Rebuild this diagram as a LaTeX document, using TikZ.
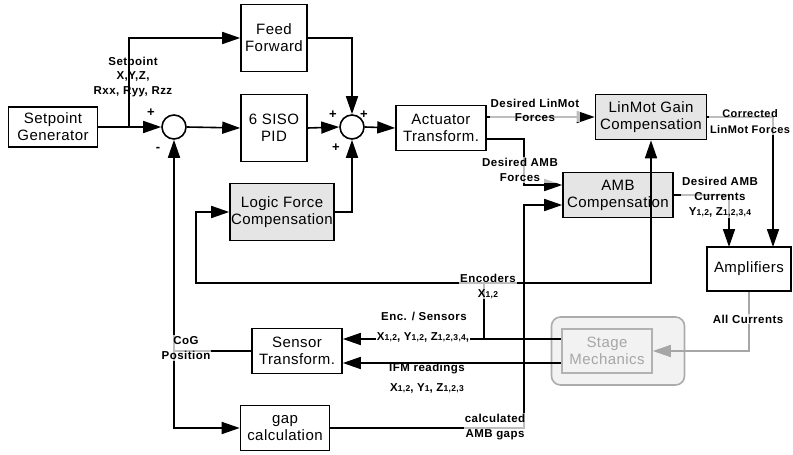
\documentclass[tikz,border=0pt]{standalone}
\usepackage{fontspec}
\setmainfont[LetterSpace=3]{Liberation Sans}
\newfontfamily\lblfont[LetterSpace=4]{Liberation Sans}
\usetikzlibrary{arrows.meta,calc}
\newcommand{\lsub}[1]{{\fontsize{8.5}{9}\selectfont #1}}
\begin{document}
\begin{tikzpicture}[x=1pt,y=-1pt,
  blk/.style={draw,line width=1.6pt,align=center,inner sep=0pt,font=\fontsize{15}{17}\selectfont},
  shaded/.style={blk,fill=gray!20},
  sumc/.style={draw,circle,line width=1.6pt,minimum size=24pt,inner sep=0pt},
  conn/.style={line width=1.6pt},
  arr/.style={conn,-{Triangle[length=18pt,width=12pt]}},
  lbl/.style={font=\lblfont\bfseries\fontsize{11.5}{14.5}\selectfont,align=center,inner sep=1pt},
  veil/.style={lbl,fill=white,fill opacity=0.74,text opacity=1},
  sign/.style={font=\bfseries\fontsize{13}{13}\selectfont,inner sep=0pt},
]
\useasboundingbox (0,0) rectangle (793,455);

% blocks
\node[blk,minimum width=89pt,minimum height=40pt] (sg) at (53,127) {Setpoint\\Generator};
\node[blk,minimum width=66pt,minimum height=67pt] (ff) at (274,38) {Feed\\Forward};
\node[blk,minimum width=66pt,minimum height=67pt] (pid) at (274,128) {6 SISO\\PID};
\node[sumc] (s1) at (174,127) {};
\node[sumc] (s2) at (352,127) {};
\node[blk,minimum width=90pt,minimum height=45pt] (act) at (441,128) {Actuator\\Transform.};
\node[shaded,minimum width=111pt,minimum height=45pt] (lin) at (651,117) {LinMot Gain\\Compensation};
\node[shaded,minimum width=110pt,minimum height=45pt] (amb) at (618,195) {AMB\\Compensation};
\node[blk,minimum width=84pt,minimum height=44pt] (amp) at (749,269) {Amplifiers};
\node[shaded,minimum width=104pt,minimum height=57pt] (lfc) at (282,212) {Logic Force\\Compensation};
\node[blk,minimum width=90pt,minimum height=45pt] (st) at (297,351) {Sensor\\Transform.};
\node[blk,minimum width=89pt,minimum height=45pt] (gap) at (285,428) {gap\\calculation};
\node[draw=gray!65,line width=1.6pt,fill=gray!10,rounded corners=9pt,minimum width=133pt,minimum height=68pt] (smout) at (618,351) {};
\node[blk,draw=gray!60,fill=gray!10,text=gray!70,minimum width=90pt,minimum height=44pt] (smin) at (607,351) {Stage\\Mechanics};

% coordinates
\coordinate (br) at (129,127);
\coordinate (a1) at (524,139);
\coordinate (a2) at (524,185);
\coordinate (g1) at (524,428);
\coordinate (g2) at (524,205);
\coordinate (e1) at (484,339);
\coordinate (e2) at (484,283);
\coordinate (e3) at (196,283);
\coordinate (l1) at (484,363);
\coordinate (ain1) at (729,247);
\coordinate (ain2) at (773,247);
\coordinate (cg) at (174,351);

% connectors
\draw[arr] (sg.east) -- (s1.west);
\draw[arr] (br) |- (ff.west);
\draw[arr] (s1.east) -- (pid.west);
\draw[arr] (pid.east) -- (s2.west);
\draw[arr] (s2.east) -- (act.west);
\draw[arr] (ff.east) -| (s2.north);
\draw[arr] (lfc.east) -| (s2.south);
\draw[arr] (act.east |- lin.west) -- (lin.west);
\draw[arr] (act.east |- a1) -- (a1) -- (a2) -- (amb.west |- a2);
\draw[arr] (gap.east |- g1) -- (g1) -- (g2) -- (amb.west |- g2);
\draw[arr] (amb.east) -| (ain1);
\draw[arr] (lin.east) -| (ain2);
\draw[arr,draw=gray!70] (amp.south) |- (smin.east);
\draw[arr] (smin.west |- e1) -- (st.east |- e1);
\draw[arr] (smin.west |- l1) -- (st.east |- l1);
\draw[conn] (e1) -- (e2);
\draw[arr] (e2) -| (lin.south);
\draw[arr] (e2) -- (e3) |- (lfc.west);
\draw[conn] (st.west) -- (cg);
\draw[arr] (cg) -- (s1.south);
\draw[arr] (cg) |- (gap.west);

% signs
\node[sign] at (151,113) {+};
\node[sign] at (158,149) {-};
\node[sign] at (333,115) {+};
\node[sign] at (364,115) {+};
\node[sign] at (336,148) {+};

% labels
\node[lbl] at (133,77) {Setpoint\\X,Y,Z,\\Rxx, Ryy, Rzz};
\node[veil,font=\lblfont\bfseries\fontsize{11.5}{14}\selectfont] at (535,110) {Desired LinMot\\Forces};
\node[veil,font=\lblfont\bfseries\fontsize{11.5}{15}\selectfont] at (520,170) {Desired AMB\\Forces};
\node[veil,font=\lblfont\bfseries\fontsize{11}{16}\selectfont] at (750,122) {Corrected\\LinMot Forces};
\node[veil,font=\lblfont\bfseries\fontsize{11.5}{15}\selectfont] at (720,197) {Desired AMB\\Currents\\Y\lsub{1,2}, Z\lsub{1,2,3,4}};
\node[veil,font=\lblfont\bfseries\fontsize{11.5}{15}\selectfont] at (488,286) {Encoders\\X\lsub{1,2}};
\node[veil] at (748,319) {All Currents};
\node[lbl] at (424,316) {Enc. / Sensors};
\node[lbl,fill=white] at (423,337) {X\lsub{1,2}, Y\lsub{1,2}, Z\lsub{1,2,3,4},};
\node[lbl] at (427,369) {IFM readings};
\node[lbl] at (427,388) {X\lsub{1,2}, Y\lsub{1}, Z\lsub{1,2,3}};
\node[veil,font=\lblfont\bfseries\fontsize{11.5}{15}\selectfont] at (186,348) {CoG\\Position};
\node[veil,font=\lblfont\bfseries\fontsize{11.5}{15}\selectfont] at (495,427) {calculated\\AMB gaps};
\end{tikzpicture}
\end{document}
